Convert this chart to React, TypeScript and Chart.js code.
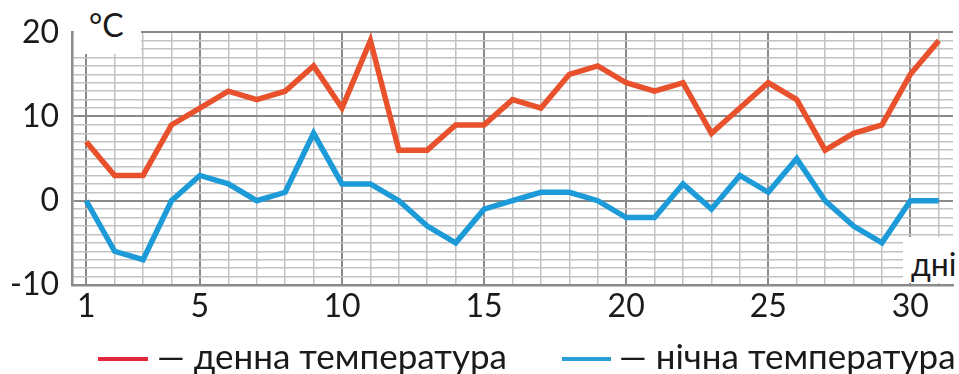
import React, { useEffect, useRef } from "react";
import { Chart, registerables } from "chart.js";

Chart.register(...registerables);

const days: number[] = [
  1, 2, 3, 4, 5, 6, 7, 8, 9, 10, 11, 12, 13, 14, 15, 16, 17, 18, 19, 20, 21, 22, 23, 24, 25, 26, 27, 28, 29, 30, 31,
];
const dayTemps: number[] = [
  7, 3, 3, 9, 11, 13, 12, 13, 16, 11, 19, 6, 6, 9, 9, 12, 11, 15, 16, 14, 13, 14, 8, 11, 14, 12, 6, 8, 9, 15, 19,
];
const nightTemps: number[] = [
  0, -6, -7, 0, 3, 2, 0, 1, 8, 2, 2, 0, -3, -5, -1, 0, 1, 1, 0, -2, -2, 2, -1, 3, 1, 5, 0, -3, -5, 0, 0,
];
const xTickLabels: number[] = [1, 5, 10, 15, 20, 25, 30];
const yTickLabels: number[] = [-10, 0, 10, 20];
const seriesNames: string[] = ["денна температура", "нічна температура"];
const unitY = "°C";
const unitX = "дні";

const RED = "#e8512b";
const BLUE = "#1c9bd8";
const LEG_RED = "#e3263a";
const LEG_BLUE = "#2a9fd6";
const MAJOR = "#8a8a8a";
const MINOR = "#c2c2c2";
const FONT = "Lato, 'Noto Sans', sans-serif";

export default function App() {
  const ref = useRef<HTMLCanvasElement | null>(null);

  useEffect(() => {
    document.body.style.margin = "0";
    const ctx = ref.current;
    if (!ctx) return;
    const chart = new Chart(ctx, {
      type: "line",
      data: {
        datasets: [
          {
            label: seriesNames[0],
            data: days.map((d, i) => ({ x: d, y: dayTemps[i] })),
            borderColor: RED,
            borderWidth: 5.5,
            pointRadius: 0,
            tension: 0,
            borderJoinStyle: "miter",
          },
          {
            label: seriesNames[1],
            data: days.map((d, i) => ({ x: d, y: nightTemps[i] })),
            borderColor: BLUE,
            borderWidth: 5.5,
            pointRadius: 0,
            tension: 0,
            borderJoinStyle: "miter",
          },
        ],
      },
      options: {
        animation: false,
        responsive: false,
        maintainAspectRatio: false,
        layout: { padding: { left: 0, right: 6, top: 29, bottom: 0 } },
        plugins: { legend: { display: false }, tooltip: { enabled: false } },
        scales: {
          x: {
            type: "linear",
            min: 0.5,
            max: 31.5,
            afterBuildTicks: (axis: any) => {
              axis.ticks = days.map((d) => ({ value: d }));
            },
            afterFit: (axis: any) => {
              axis.height = 89;
            },
            grid: {
              drawTicks: false,
              color: (c: any) => {
                const v = c.tick && c.tick.value;
                return v === 1 || v % 5 === 0 ? MAJOR : MINOR;
              },
              lineWidth: (c: any) => {
                const v = c.tick && c.tick.value;
                return v === 1 || v % 5 === 0 ? 2 : 1.5;
              },
            },
            border: { display: true, color: MAJOR, width: 2.5 },
            ticks: {
              autoSkip: false,
              maxRotation: 0,
              padding: 2,
              color: "#1a1a1a",
              font: { family: FONT, size: 32 },
              callback: (v: any) => (xTickLabels.includes(Number(v)) ? String(v) : ""),
            },
          },
          y: {
            type: "linear",
            min: -10,
            max: 20,
            afterFit: (axis: any) => {
              axis.width = 72;
            },
            grid: {
              drawTicks: false,
              color: (c: any) => {
                const v = c.tick && c.tick.value;
                return v % 10 === 0 ? MAJOR : MINOR;
              },
              lineWidth: (c: any) => {
                const v = c.tick && c.tick.value;
                return v % 10 === 0 ? 2 : 1.5;
              },
            },
            border: { display: true, color: MAJOR, width: 2.5 },
            ticks: {
              stepSize: 1,
              autoSkip: false,
              padding: 13,
              color: "#1a1a1a",
              font: { family: FONT, size: 32 },
              callback: (v: any) => (yTickLabels.includes(Number(v)) ? String(v) : ""),
            },
          },
        },
      },
    });
    return () => chart.destroy();
  }, []);

  const txt: React.CSSProperties = {
    position: "absolute",
    fontFamily: FONT,
    fontSize: 32,
    color: "#1a1a1a",
    lineHeight: "32px",
    whiteSpace: "nowrap",
  };
  const leg: React.CSSProperties = { ...txt, fontSize: 35, lineHeight: "35px" };

  return (
    <div style={{ position: "relative", width: 959, height: 374, background: "#fff", overflow: "hidden" }}>
      <canvas ref={ref} width={959} height={374} style={{ display: "block" }} />
      <div style={{ position: "absolute", left: 74, top: 0, width: 67, height: 54, background: "#fff" }} />
      <div style={{ ...txt, left: 89, top: 9 }}>{unitY}</div>
      <div style={{ position: "absolute", left: 903, top: 237, width: 56, height: 46, background: "#fff" }} />
      <div style={{ ...txt, left: 911, top: 248 }}>{unitX}</div>
      <div style={{ position: "absolute", left: 98, top: 357, width: 50, height: 4, background: LEG_RED }} />
      <div style={{ ...leg, left: 157, top: 338 }}>{"— " + seriesNames[0]}</div>
      <div style={{ position: "absolute", left: 562, top: 357, width: 49, height: 4, background: LEG_BLUE }} />
      <div style={{ ...leg, left: 619, top: 338 }}>{"— " + seriesNames[1]}</div>
    </div>
  );
}
